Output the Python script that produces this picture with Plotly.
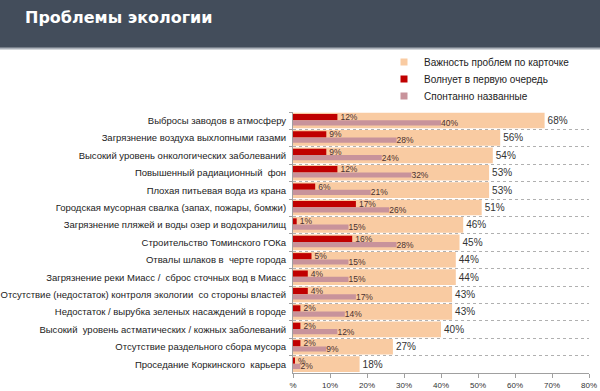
import plotly.graph_objects as go

categories = [
    "Выбросы заводов в атмосферу",
    "Загрязнение воздуха выхлопными газами",
    "Высокий уровень онкологических заболеваний",
    "Повышенный радиационный  фон",
    "Плохая питьевая вода из крана",
    "Городская мусорная свалка (запах, пожары, бомжи)",
    "Загрязнение пляжей и воды озер и водохранилищ",
    "Строительство Томинского ГОКа",
    "Отвалы шлаков в  черте города",
    "Загрязнение реки Миасс /  сброс сточных вод в Миасс",
    "Отсутствие (недостаток) контроля экологии  со стороны властей",
    "Недостаток / вырубка зеленых насаждений в городе",
    "Высокий  уровень астматических / кожных заболеваний",
    "Отсутствие раздельного сбора мусора",
    "Проседание Коркинского  карьера",
]
importance = [68, 56, 54, 53, 53, 51, 46, 45, 44, 44, 43, 43, 40, 27, 18]
first_concern = [12, 9, 9, 12, 6, 17, 1, 16, 5, 4, 4, 2, 2, 2, 0.3]
first_concern_labels = ["12%", "9%", "9%", "12%", "6%", "17%", "1%", "16%", "5%", "4%", "4%", "2%", "2%", "2%", "%"]
spontaneous = [40, 28, 24, 32, 21, 26, 15, 28, 15, 15, 17, 14, 12, 9, 2]
x_ticks = [0, 10, 20, 30, 40, 50, 60, 70, 80]
x_ticktext = ["%", "10%", "20%", "30%", "40%", "50%", "60%", "70%", "80%"]

names = ["Важность проблем по карточке", "Волнует в первую очередь", "Спонтанно названные"]
C_ORANGE = "#f9cba2"
C_RED = "#c00000"
C_PINK = "#c8939b"
HEADER = "#434d5b"
FONT = "Liberation Sans"

W, H = 600, 391
ML, MR, MT, MB = 293, 11, 112, 18
PW, PH = W - ML - MR, H - MT - MB


def px_x(x):
    return (x - ML) / PW


def px_y(y):
    return (H - MB - y) / PH


fig = go.Figure()
fig.add_trace(go.Bar(
    y=categories, x=importance, orientation="h", name=names[0],
    marker=dict(color=C_ORANGE, line=dict(width=0)),
    width=0.9, offset=-0.46,
    text=[f"{v}%" for v in importance], textposition="outside",
    textfont=dict(size=10, color="#333333", family=FONT),
    constraintext="none", cliponaxis=False, showlegend=False,
))
fig.add_trace(go.Bar(
    y=categories, x=first_concern, orientation="h", name=names[1],
    marker=dict(color=C_RED, line=dict(width=0)),
    width=0.36, offset=-0.39,
    text=first_concern_labels, textposition="outside",
    textfont=dict(size=8.5, color="#4a3030", family=FONT),
    constraintext="none", cliponaxis=False, showlegend=False,
))
fig.add_trace(go.Bar(
    y=categories, x=spontaneous, orientation="h", name=names[2],
    marker=dict(color=C_PINK, line=dict(width=0)),
    width=0.3, offset=-0.03,
    text=[f"{v}%" for v in spontaneous], textposition="outside",
    textfont=dict(size=8.5, color="#4a3030", family=FONT),
    constraintext="none", cliponaxis=False, showlegend=False,
))

# legend entries, one legend box per entry so each row sits where the reference has it
legend_ids = ["legend", "legend2", "legend3"]
legend_rows_px = [62, 79, 96]
for nm, col, lg in zip(names, [C_ORANGE, C_RED, C_PINK], legend_ids):
    fig.add_trace(go.Scatter(
        x=[None], y=[None], mode="markers", name=nm,
        marker=dict(symbol="square", size=7, color=col),
        showlegend=True, legend=lg,
    ))

legend_common = dict(
    xref="container", yref="container", xanchor="left", yanchor="middle",
    itemwidth=30, font=dict(size=10, color="#222222", family=FONT),
    bgcolor="rgba(0,0,0,0)",
)

fig.update_layout(
    width=W, height=H,
    margin=dict(l=ML, r=MR, t=MT, b=MB, pad=0, autoexpand=False),
    paper_bgcolor="white", plot_bgcolor="white",
    barmode="overlay",
    font=dict(family=FONT, size=10, color="#222222"),
    legend=dict(x=384 / W, y=1 - legend_rows_px[0] / H, **legend_common),
    legend2=dict(x=384 / W, y=1 - legend_rows_px[1] / H, **legend_common),
    legend3=dict(x=384 / W, y=1 - legend_rows_px[2] / H, **legend_common),
    shapes=[
        dict(type="rect", xref="paper", yref="paper",
             x0=px_x(0), x1=px_x(W), y0=px_y(48), y1=px_y(0),
             fillcolor=HEADER, line=dict(width=0), layer="below"),
        dict(type="line", xref="paper", yref="paper",
             x0=px_x(0), x1=px_x(W), y0=px_y(48.5), y1=px_y(48.5),
             line=dict(color="#aab0b8", width=2)),
    ],
    annotations=[
        dict(text="<b>Проблемы экологии</b>", xref="paper", yref="paper",
             x=px_x(23), y=px_y(17), xanchor="left", yanchor="middle",
             showarrow=False, font=dict(family="DejaVu Sans", size=16, color="white")),
    ],
)
fig.update_yaxes(
    type="category", autorange="reversed", automargin=False,
    tickson="boundaries", showgrid=True, gridcolor="#b0b0b0", griddash="dot", gridwidth=1,
    ticks="outside", ticklen=3, tickcolor="#a0a0a0",
    showline=True, linecolor="#a0a0a0", linewidth=1,
    tickfont=dict(size=9.5, color="#222222", family=FONT),
    ticklabelstandoff=4,
)
fig.update_xaxes(
    range=[0, 80], tickmode="array", tickvals=x_ticks, ticktext=x_ticktext,
    showgrid=False, zeroline=False, automargin=False,
    ticks="outside", ticklen=4, tickcolor="#a0a0a0",
    showline=True, linecolor="#a0a0a0", linewidth=1,
    tickfont=dict(size=8, color="#333333", family=FONT),
)

fig.write_html("out.html", config={"displayModeBar": False},
               post_script="document.body.style.margin='0';")
